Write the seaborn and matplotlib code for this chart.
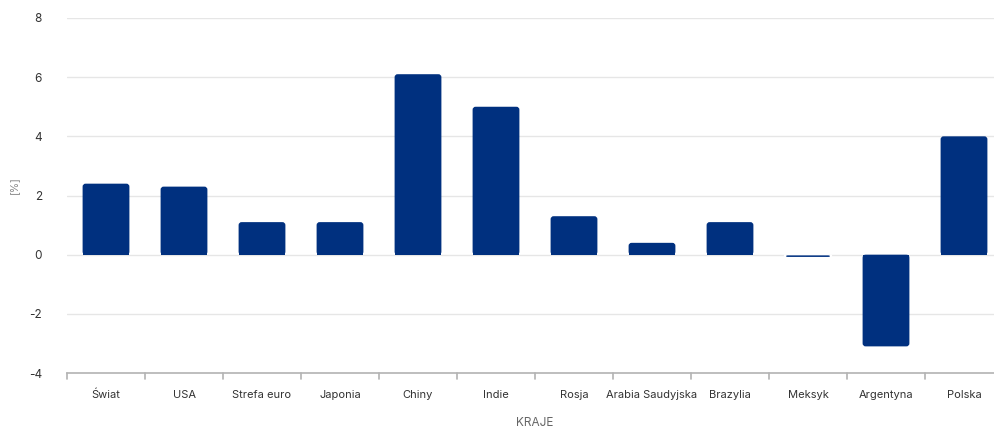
import matplotlib
matplotlib.use("Agg")
import matplotlib.pyplot as plt
import seaborn as sns
import pandas as pd
from matplotlib.patches import FancyBboxPatch, Rectangle

categories = ["Świat", "USA", "Strefa euro", "Japonia", "Chiny", "Indie", "Rosja",
              "Arabia Saudyjska", "Brazylia", "Meksyk", "Argentyna", "Polska"]
values = [2.4, 2.3, 1.1, 1.1, 6.1, 5.0, 1.3, 0.4, 1.1, -0.1, -3.1, 4.0]
y_ticks = [-4, -2, 0, 2, 4, 6, 8]

sns.set_theme(style="white")
plt.rcParams['font.family'] = ['Inter', 'DejaVu Sans']

df = pd.DataFrame({"kraj": categories, "wartosc": values})

fig = plt.figure(figsize=(9.94, 4.29), dpi=100)
ax = fig.add_axes([67/994, 56/429, 936/994, 355/429])

BAR = "#00307f"
sns.barplot(data=df, x="kraj", y="wartosc", ax=ax, color=BAR, width=0.6,
            saturation=1, linewidth=0, order=categories)

ax.set_ylim(-4, 8)
ax.set_xlim(-0.5, len(categories) - 0.5)

# rounded bars (end rounded, base square)
px_x = 936 / len(categories)
px_y = 355 / 12
r_px = 3.0
r = r_px / px_x
aspect = (r_px / px_y) / r
for p in list(ax.patches):
    x0, y0 = p.get_x(), p.get_y()
    w, h = p.get_width(), p.get_height()
    p.set_visible(False)
    bottom = min(y0, y0 + h)
    hh = abs(h)
    tiny = hh * px_y < 4
    fb = FancyBboxPatch((x0, bottom), w, hh,
                        boxstyle=f"round,pad=0,rounding_size={r}",
                        mutation_aspect=aspect, facecolor=BAR,
                        edgecolor="white" if tiny else "none",
                        linewidth=1.0, zorder=3)
    ax.add_patch(fb)
    if not tiny:
        sq_h = hh / 2
        base = 0 if h >= 0 else -sq_h
        ax.add_patch(Rectangle((x0, base), w, sq_h, facecolor=BAR,
                               edgecolor="none", zorder=3))

ax.set_yticks(y_ticks)
ax.set_yticklabels([str(v) for v in y_ticks])
for yv in y_ticks:
    if yv != -4:
        ax.axhline(yv, color="#e6e6e6", linewidth=1, zorder=1)

for s in ["top", "right", "left"]:
    ax.spines[s].set_visible(False)
ax.spines["bottom"].set_color("#b3b3b3")
ax.spines["bottom"].set_linewidth(1.2)

ax.set_xticks(range(len(categories)))
ax.set_xticklabels(categories)
ax.tick_params(axis="x", length=0, pad=12, labelsize=8, labelcolor="#333333")
ax.tick_params(axis="y", length=0, pad=18, labelsize=8.5, labelcolor="#333333")

# boundary ticks
for b in [i - 0.5 for i in range(len(categories) + 1)]:
    ax.plot([b, b], [-4, -4 - 6 / px_y], color="#b3b3b3", linewidth=1.2,
            clip_on=False, zorder=2)

ax.set_xlabel("KRAJE", color="#666666", fontsize=8.5)
ax.xaxis.set_label_coords(0.5, (373 - 423) / 355)
ax.xaxis.label.set_va("center")
ax.set_ylabel("[%]", color="#888888", fontsize=7.5)
ax.yaxis.set_label_coords((14 - 67) / 936, (373 - 185) / 355)
ax.yaxis.label.set_va("center")

fig.savefig("out.png", dpi=100)
